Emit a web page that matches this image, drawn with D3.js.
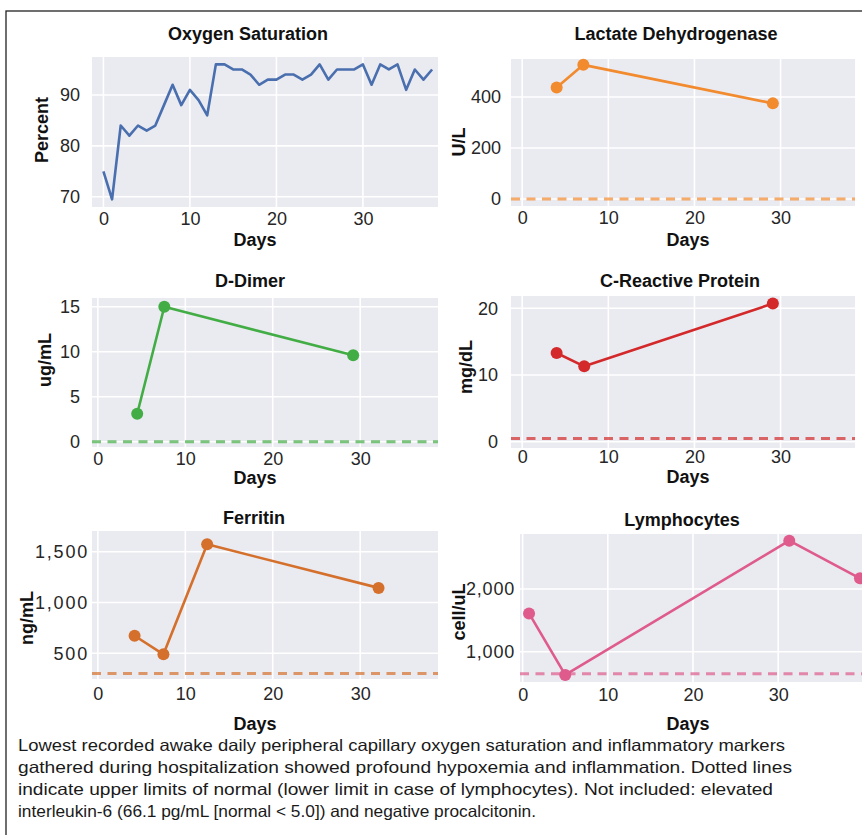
<!DOCTYPE html>
<html>
<head>
<meta charset="utf-8">
<script src="https://cdn.jsdelivr.net/npm/d3@7"></script>
<style>
  body { margin: 0; background: #fff; }
  svg { display: block; font-family: "Liberation Sans", Arial, Helvetica, sans-serif; }
</style>
</head>
<body>
<svg id="chart" width="862" height="835"></svg>
<script>
// values
const dayTicks = [0, 10, 20, 30];

const oxygenDays = [0, 1, 2, 3, 4, 5, 6, 7, 8, 9, 10, 11, 12, 13, 14, 15, 16, 17, 18, 19,
  20, 21, 22, 23, 24, 25, 26, 27, 28, 29, 30, 31, 32, 33, 34, 35, 36, 37, 38];
const oxygenValues = [75, 69.5, 84, 82, 84, 83, 84, 88, 92, 88, 91, 89, 86, 96, 96, 95, 95, 94, 92, 93,
  93, 94, 94, 93, 94, 96, 93, 95, 95, 95, 96, 92, 96, 95, 96, 91, 95, 93, 95];

const ldhDays = [4, 7.1, 29.1];
const ldhValues = [437, 526, 375];
const ldhLimit = 0;

const dimerDays = [4.5, 7.6, 29.2];
const dimerValues = [3.1, 15.0, 9.6];
const dimerLimit = 0;

const crpDays = [4, 7.2, 29.1];
const crpValues = [13.3, 11.3, 20.7];
const crpLimit = 0.5;

const ferritinDays = [4.2, 7.5, 12.5, 32.1];
const ferritinValues = [673, 490, 1573, 1144];
const ferritinLimit = 300;

const lymphDays = [0.75, 5.0, 31.3, 39.6];
const lymphValues = [1610, 630, 2770, 2170];
const lymphLimit = 650;

const captionLines = [
  'Lowest recorded awake daily peripheral capillary oxygen saturation and inflammatory markers',
  'gathered during hospitalization showed profound hypoxemia and inflammation. Dotted lines',
  'indicate upper limits of normal (lower limit in case of lymphocytes). Not included: elevated',
  'interleukin-6 (66.1 pg/mL [normal < 5.0]) and negative procalcitonin.',
];
const captionWidths = [767, 774, 755, 518];

const panels = [
  {title: 'Oxygen Saturation', unit: 'Percent', color: '#4a6fae', days: oxygenDays, values: oxygenValues,
    markers: false, limit: null, yTicks: [70, 80, 90], fmt: d3.format('d'), spacing: 0,
    left: 92, right: 438, top: 57, bottom: 207, xDomain: [-1.32, 38.68], yDomain: [68.0, 97.45],
    titleX: 248, titleY: 40, yPad: 12, xPad: 5, daysX: 255, daysY: 246, unitX: 48, unitY: 130},
  {title: 'Lactate Dehydrogenase', unit: 'U/L', color: '#f28a2e', days: ldhDays, values: ldhValues,
    markers: true, limit: ldhLimit, yTicks: [0, 200, 400], fmt: d3.format('d'), spacing: 0,
    left: 511, right: 855, top: 59, bottom: 206, xDomain: [-1.30, 38.64], yDomain: [-27.5, 549],
    titleX: 676, titleY: 40, yPad: 10, xPad: 5, daysX: 688, daysY: 246, unitX: 465, unitY: 142},
  {title: 'D-Dimer', unit: 'ug/mL', color: '#43ad45', days: dimerDays, values: dimerValues,
    markers: true, limit: dimerLimit, yTicks: [0, 5, 10, 15], fmt: d3.format('d'), spacing: 0,
    left: 92, right: 438, top: 298, bottom: 447, xDomain: [-0.67, 38.9], yDomain: [-0.59, 15.97],
    titleX: 250, titleY: 287, yPad: 12, xPad: 5, daysX: 255, daysY: 484, unitX: 51, unitY: 360},
  {title: 'C-Reactive Protein', unit: 'mg/dL', color: '#d3292b', days: crpDays, values: crpValues,
    markers: true, limit: crpLimit, yTicks: [0, 10, 20], fmt: d3.format('d'), spacing: 0,
    left: 511, right: 855, top: 296, bottom: 448, xDomain: [-1.30, 38.64], yDomain: [-0.94, 21.84],
    titleX: 680, titleY: 287, yPad: 13, xPad: 2, daysX: 688, daysY: 483, unitX: 472, unitY: 367},
  {title: 'Ferritin', unit: 'ng/mL', color: '#d4702c', days: ferritinDays, values: ferritinValues,
    markers: true, limit: ferritinLimit, yTicks: [500, 1000, 1500], fmt: d3.format(','), spacing: 1.8,
    left: 92, right: 438, top: 531, bottom: 679, xDomain: [-0.67, 38.9], yDomain: [247, 1704],
    titleX: 254, titleY: 524, yPad: 3, xPad: 8, daysX: 255, daysY: 730, unitX: 33, unitY: 618},
  {title: 'Lymphocytes', unit: 'cell/uL', color: '#de5b8c', days: lymphDays, values: lymphValues,
    markers: true, limit: lymphLimit, yTicks: [1000, 2000], fmt: d3.format(','), spacing: 0.8,
    left: 520, right: 880, top: 534, bottom: 682, xDomain: [-0.31, 41.95], yDomain: [517, 2877],
    titleX: 682, titleY: 526, yPad: 5, xPad: 6, daysX: 688, daysY: 730, unitX: 465, unitY: 612},
];

const svg = d3.select('#chart');

svg.append('rect')
    .attr('width', 862)
    .attr('height', 835)
    .attr('fill', '#fff');

// outer frame, cut by the page on the right and bottom
svg.append('rect')
    .attr('x', 6)
    .attr('y', 11)
    .attr('width', 900)
    .attr('height', 900)
    .attr('fill', 'none')
    .attr('stroke', '#222')
    .attr('stroke-width', 1.3);

/**
* Draw one small panel.
* @param {object} p - panel settings.
*/
function drawPanel(p) {
  const x = d3.scaleLinear().domain(p.xDomain).range([p.left, p.right]);
  const y = d3.scaleLinear().domain(p.yDomain).range([p.bottom, p.top]);
  const g = svg.append('g');

  g.append('rect')
      .attr('x', p.left)
      .attr('y', p.top)
      .attr('width', p.right - p.left)
      .attr('height', p.bottom - p.top)
      .attr('fill', '#eaeaf1');

  g.selectAll('.vgrid').data(dayTicks).enter().append('line')
      .attr('x1', function(d) {
        return x(d);
      })
      .attr('x2', function(d) {
        return x(d);
      })
      .attr('y1', p.top)
      .attr('y2', p.bottom)
      .attr('stroke', '#fff')
      .attr('stroke-width', 1.6);

  g.selectAll('.hgrid').data(p.yTicks).enter().append('line')
      .attr('x1', p.left)
      .attr('x2', p.right)
      .attr('y1', function(d) {
        return y(d);
      })
      .attr('y2', function(d) {
        return y(d);
      })
      .attr('stroke', '#fff')
      .attr('stroke-width', 1.6);

  let xAxis = g.append('g')
      .attr('transform', 'translate(0,' + p.bottom + ')')
      .call(d3.axisBottom(x).tickValues(dayTicks).tickSize(0).tickPadding(p.xPad));
  let yAxis = g.append('g')
      .attr('transform', 'translate(' + p.left + ',0)')
      .call(d3.axisLeft(y).tickValues(p.yTicks).tickSize(0).tickPadding(p.yPad).tickFormat(p.fmt));

  [xAxis, yAxis].forEach(function(a) {
    a.select('.domain').remove();
    a.attr('font-size', 18).attr('font-family', null);
    a.selectAll('text').attr('fill', '#262626');
  });
  yAxis.selectAll('text').attr('letter-spacing', p.spacing);

  if (p.limit !== null) {
    g.append('line')
        .attr('x1', p.left)
        .attr('x2', p.right)
        .attr('y1', y(p.limit))
        .attr('y2', y(p.limit))
        .attr('stroke', p.color)
        .attr('stroke-opacity', 0.7)
        .attr('stroke-width', 3)
        .attr('stroke-dasharray', '9,6.5');
  }

  let pts = d3.zip(p.days, p.values);

  g.append('path')
      .datum(pts)
      .attr('fill', 'none')
      .attr('stroke', p.color)
      .attr('stroke-width', 2.6)
      .attr('stroke-linejoin', 'round')
      .attr('d', d3.line()
        .x(function(d) {
          return x(d[0]);
        })
        .y(function(d) {
          return y(d[1]);
        }));

  if (p.markers) {
    g.selectAll('circle').data(pts).enter().append('circle')
        .attr('cx', function(d) {
          return x(d[0]);
        })
        .attr('cy', function(d) {
          return y(d[1]);
        })
        .attr('r', 6)
        .attr('fill', p.color);
  }

  g.append('text')
      .attr('x', p.titleX)
      .attr('y', p.titleY)
      .attr('text-anchor', 'middle')
      .attr('font-size', 18)
      .attr('font-weight', 'bold')
      .attr('fill', '#111')
      .text(p.title);

  g.append('text')
      .attr('x', p.daysX)
      .attr('y', p.daysY)
      .attr('text-anchor', 'middle')
      .attr('font-size', 18)
      .attr('font-weight', 'bold')
      .attr('fill', '#111')
      .text('Days');

  g.append('text')
      .attr('transform', 'translate(' + p.unitX + ',' + p.unitY + ') rotate(-90)')
      .attr('text-anchor', 'middle')
      .attr('font-size', 18)
      .attr('font-weight', 'bold')
      .attr('fill', '#111')
      .text(p.unit);
}

panels.forEach(drawPanel);

// caption under the panels
svg.append('g').selectAll('text').data(captionLines).enter().append('text')
    .attr('x', 18)
    .attr('y', function(d, i) {
      return 751 + i * 22;
    })
    .attr('font-size', 16.5)
    .attr('font-family', '"Liberation Sans Narrow", "Liberation Sans", Arial, sans-serif')
    .attr('fill', '#1a1a1a')
    .attr('textLength', function(d, i) {
      return captionWidths[i];
    })
    .attr('lengthAdjust', 'spacingAndGlyphs')
    .text(function(d) {
      return d;
    });
</script>
</body>
</html>
